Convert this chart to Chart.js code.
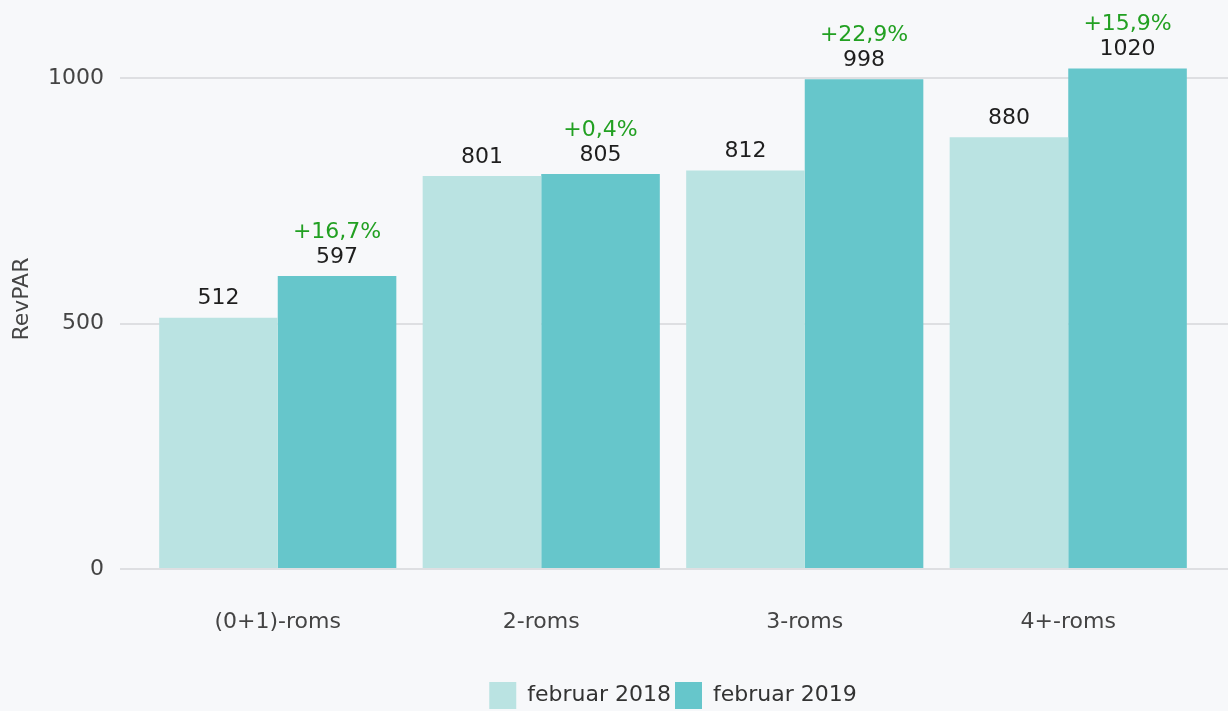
<!DOCTYPE html>
<html>
<head>
<meta charset="utf-8">
<script src="https://cdn.jsdelivr.net/npm/chart.js@4"></script>
<style>
  html, body { margin: 0; padding: 0; background: #f7f8fa; }
  #wrap { width: 1228px; height: 711px; }
</style>
</head>
<body>
<div id="wrap"><canvas id="c" width="1228" height="711"></canvas></div>
<script>
const categories = ['(0+1)-roms', '2-roms', '3-roms', '4+-roms'];
const seriesNames = ['februar 2018', 'februar 2019'];
const feb2018 = [512, 801, 812, 880];
const feb2019 = [597, 805, 998, 1020];
const changeLabels = ['+16,7%', '+0,4%', '+22,9%', '+15,9%'];
const yTicks = [0, 500, 1000];

const FONT = 'DejaVu Sans';
const gridColor = '#dedfe2';

const labelPlugin = {
  id: 'barLabels',
  afterDatasetsDraw(chart) {
    const ctx = chart.ctx;
    ctx.save();
    ctx.font = '22px "' + FONT + '"';
    ctx.textAlign = 'center';
    ctx.textBaseline = 'middle';
    chart.data.datasets.forEach((ds, di) => {
      const meta = chart.getDatasetMeta(di);
      meta.data.forEach((bar, i) => {
        ctx.fillStyle = '#1e1e1e';
        ctx.fillText(String(ds.data[i]), bar.x, bar.y - 19);
        if (di === 1) {
          ctx.fillStyle = '#22a022';
          ctx.fillText(changeLabels[i], bar.x, bar.y - 44);
        }
      });
    });
    ctx.restore();
  }
};

const setTicks = (scale) => {
  scale.ticks = yTicks.map(v => ({ value: v }));
};

new Chart(document.getElementById('c'), {
  type: 'bar',
  data: {
    labels: categories,
    datasets: [
      { label: seriesNames[0], data: feb2018, backgroundColor: '#bae3e2', categoryPercentage: 0.9, barPercentage: 1.0 },
      { label: seriesNames[1], data: feb2019, backgroundColor: '#66c6cb', categoryPercentage: 0.9, barPercentage: 1.0 }
    ]
  },
  options: {
    responsive: false,
    animation: false,
    layout: { padding: { top: 25, left: 0, right: 0, bottom: -8 } },
    plugins: {
      legend: {
        position: 'bottom',
        fullSize: false,
        labels: {
          font: { family: FONT, size: 22 },
          color: '#333',
          boxWidth: 27,
          boxHeight: 27,
          padding: 4
        }
      },
      tooltip: { enabled: false }
    },
    scales: {
      x: {
        grid: { display: false, drawTicks: false },
        border: { display: false },
        ticks: { font: { family: FONT, size: 22 }, color: '#444', padding: 40 },
        afterFit: (s) => { s.height = 109; }
      },
      y: {
        min: 0, max: 1100,
        position: 'left',
        afterBuildTicks: setTicks,
        grid: { color: gridColor, lineWidth: 2, tickLength: 26, tickColor: gridColor },
        border: { display: false },
        ticks: { font: { family: FONT, size: 22 }, color: '#444', padding: 16, autoSkip: false, callback: (v) => String(v) },
        title: { display: true, text: 'RevPAR', font: { family: FONT, size: 22 }, color: '#444', padding: { top: 9, bottom: 0 } },
        afterFit: (s) => { s.width = 146; }
      },
      yRight: {
        min: 0, max: 1100,
        position: 'right',
        afterBuildTicks: setTicks,
        grid: { color: gridColor, lineWidth: 2, tickLength: 28, tickColor: gridColor, drawOnChartArea: false },
        border: { display: false },
        ticks: { display: false, autoSkip: false },
        afterFit: (s) => { s.width = 28; }
      }
    }
  },
  plugins: [labelPlugin]
});
</script>
</body>
</html>
